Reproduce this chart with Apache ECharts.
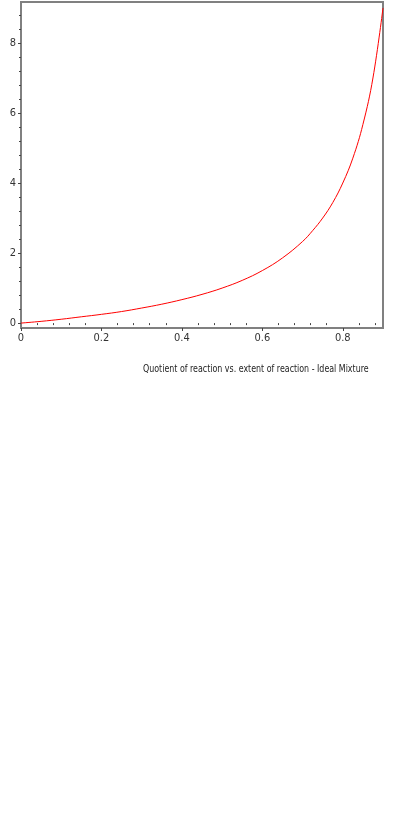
<!DOCTYPE html>
<html>
<head>
<meta charset="utf-8">
<script src="https://cdn.jsdelivr.net/npm/echarts@6/dist/echarts.min.js"></script>
<style>
html,body{margin:0;padding:0;background:#fff;}
#container{width:415px;height:830px;}
</style>
</head>
<body>
<div id="container"></div>
<script>
// values
var extent = [0, 0.05, 0.1, 0.15, 0.2, 0.25, 0.3, 0.35, 0.4, 0.45, 0.5, 0.55, 0.6, 0.65, 0.7, 0.725, 0.75, 0.775, 0.8, 0.825, 0.85, 0.875, 0.9];
var quotient = [0, 0.05, 0.11, 0.18, 0.25, 0.33, 0.43, 0.54, 0.67, 0.82, 1.0, 1.22, 1.5, 1.86, 2.33, 2.64, 3.0, 3.44, 4.0, 4.71, 5.67, 7.0, 9.0];
var xTicks = [0, 0.2, 0.4, 0.6, 0.8];
var xMinor = [0.04, 0.08, 0.12, 0.16, 0.24, 0.28, 0.32, 0.36, 0.44, 0.48, 0.52, 0.56, 0.64, 0.68, 0.72, 0.76, 0.84, 0.88];
var yTicks = [0, 2, 4, 6, 8];
var yMinor = [0.4, 0.8, 1.2, 1.6, 2.4, 2.8, 3.2, 3.6, 4.4, 4.8, 5.2, 5.6, 6.4, 6.8, 7.2, 7.6, 8.4, 8.8];
var titleText = 'Quotient of reaction vs. extent of reaction - Ideal Mixture';

var pts = [];
for (var i = 0; i < extent.length; i++) {
	pts.push([extent[i], quotient[i]]);
}

var font = '"Liberation Sans Narrow", "DejaVu Sans Condensed", sans-serif';
var axisGray = '#808080';

var dom = document.getElementById("container");
var myChart = echarts.init(dom);
var option = {
	animation: false,
	graphic: [{
		type: 'text',
		x: 143, y: 364,
		scaleX: 0.8,
		style: { text: titleText, fontFamily: font, fontSize: 11, fill: '#222' },
		silent: true
	}],
	grid: {
		left: 21, right: 32, top: 2, bottom: 502,
		show: true, borderColor: axisGray, borderWidth: 2, backgroundColor: '#fff'
	},
	xAxis: [{
		type: 'value', min: 0, max: 0.9,
		axisLine: { show: true, onZero: false, lineStyle: { color: axisGray, width: 2 } },
		axisTick: { show: true, length: 3, customValues: xTicks, lineStyle: { color: '#444' } },
		axisLabel: { customValues: xTicks, margin: 5, fontFamily: font, fontSize: 11, color: '#333',
			formatter: function (v) { return v === 0 ? '0' : v.toFixed(1); } },
		splitLine: { show: false }
	}, {
		type: 'value', min: 0, max: 0.9, position: 'bottom',
		axisLine: { show: false },
		axisTick: { show: true, length: 2, customValues: xMinor, lineStyle: { color: '#444' } },
		axisLabel: { show: false },
		splitLine: { show: false }
	}],
	yAxis: [{
		type: 'value', min: -0.14, max: 9.17,
		axisLine: { show: true, onZero: false, lineStyle: { color: axisGray, width: 2 } },
		axisTick: { show: true, length: 3, customValues: yTicks, lineStyle: { color: '#444' } },
		axisLabel: { customValues: yTicks, margin: 5, fontFamily: font, fontSize: 11, color: '#333' },
		splitLine: { show: false }
	}, {
		type: 'value', min: -0.14, max: 9.17, position: 'left',
		axisLine: { show: false },
		axisTick: { show: true, length: 2, customValues: yMinor, lineStyle: { color: '#444' } },
		axisLabel: { show: false },
		splitLine: { show: false }
	}],
	series: [{
		type: 'line',
		data: pts,
		smooth: 0.4,
		showSymbol: false,
		lineStyle: { color: '#ff0000', width: 1 },
		silent: true
	}]
};
myChart.setOption(option);
</script>
</body>
</html>
